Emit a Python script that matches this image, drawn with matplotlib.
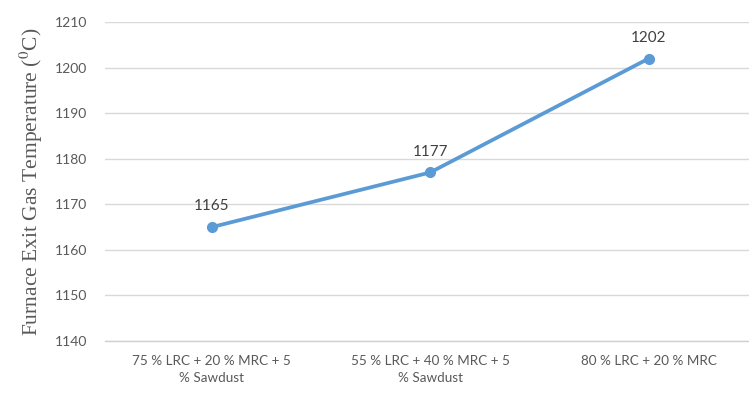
import matplotlib.pyplot as plt

# blend compositions and furnace exit gas temperature
blends = ["75 % LRC + 20 % MRC + 5\n% Sawdust",
          "55 % LRC + 40 % MRC + 5\n% Sawdust",
          "80 % LRC + 20 % MRC"]
temps = [1165, 1177, 1202]
yticks = [1140, 1150, 1160, 1170, 1180, 1190, 1200, 1210]

plt.rcParams['font.family'] = ['Lato', 'DejaVu Sans']
plt.rcParams['mathtext.fontset'] = 'stix'

fig = plt.figure(figsize=(7.49, 4.03), dpi=100)
ax = fig.add_axes([0.140, 0.154, 0.860, 0.791])

x = range(len(blends))
ax.plot(x, temps, color='#5b9bd5', linewidth=2.7, marker='o', markersize=7,
        solid_capstyle='round', zorder=3)

# value labels above each point
for xi, t in zip(x, temps):
    ax.annotate(str(t), (xi, t), xytext=(0, 10), textcoords='offset points',
                ha='center', va='bottom', fontsize=11, color='#404040')

ax.set_xlim(-0.49, 2.46)
ax.set_ylim(1140, 1210)
ax.set_xticks(list(x))
ax.set_xticklabels(blends, fontsize=9.7, color='#595959', linespacing=1.5)
ax.set_yticks(yticks)
ax.set_yticklabels([str(v) for v in yticks], fontsize=10, color='#595959')
ax.tick_params(axis='both', length=0)
ax.tick_params(axis='y', pad=13)
ax.tick_params(axis='x', pad=10)

ax.yaxis.grid(True, color='#d9d9d9', linewidth=1.0)
ax.set_axisbelow(True)
for s in ['top', 'right', 'left']:
    ax.spines[s].set_visible(False)
ax.spines['bottom'].set_color('#d0d0d0')
ax.spines['bottom'].set_linewidth(1.0)

ax.set_ylabel(r'Furnace Exit Gas Temperature ($^{0}$C)', family='Liberation Serif',
              fontsize=15.5, color='#595959', labelpad=7)

fig.savefig('out.png', dpi=100)
